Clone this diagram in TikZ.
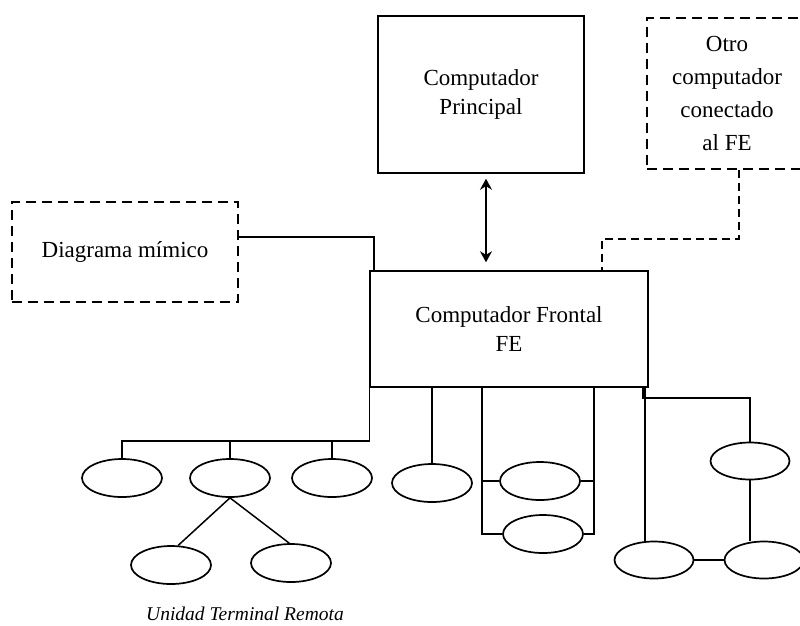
\documentclass[tikz,border=0pt]{standalone}
\usepackage{fontspec}
\setmainfont{Liberation Serif}
\usetikzlibrary{shapes.geometric,arrows.meta}
\begin{document}
\begin{tikzpicture}[x=1pt,y=-1pt,
  lbl/.style={font=\fontsize{23}{29}\selectfont, align=center},
  solidbox/.style={draw, line width=1.5pt, inner sep=0pt, lbl},
  dashbox/.style={draw, dash pattern=on 10pt off 6pt, line width=1.5pt, inner sep=0pt, lbl},
  rtu/.style={draw, ellipse, minimum width=80pt, minimum height=38pt, inner sep=0pt, line width=1.7pt},
  link/.style={line width=1.5pt},
  dlink/.style={line width=1.5pt, dash pattern=on 8pt off 5pt},
  dbl/.style={line width=1.6pt, {Stealth[length=11pt,width=12pt]}-{Stealth[length=11pt,width=12pt]}},
]
\useasboundingbox (0,0) rectangle (800,625);
\clip (0,0) rectangle (800,625);

% main blocks
\node[solidbox, minimum width=206pt, minimum height=157pt] (pc) at (481,94.5) {Computador\\Principal};
\node[dashbox, minimum width=160pt, minimum height=151pt, font=\fontsize{23}{33}\selectfont] (otro) at (727,93.5) {Otro\\computador\\conectado\\al FE};
\node[dashbox, minimum width=226pt, minimum height=100pt] (dm) at (125,252) {Diagrama mímico};
\node[solidbox, minimum width=278pt, minimum height=116pt] (fe) at (509,329) {Computador Frontal\\FE};

% remote terminal units
\node[rtu] (e1) at (122,478) {};
\node[rtu] (e2) at (230,478) {};
\node[rtu] (e3) at (332,478) {};
\node[rtu] (e4) at (171,565) {};
\node[rtu] (e5) at (291,563) {};
\node[rtu] (e6) at (432,483) {};
\node[rtu] (e7) at (540,481) {};
\node[rtu] (e8) at (543,534) {};
\node[rtu, minimum width=79pt, minimum height=37pt] (e9) at (654,560) {};
\node[rtu, minimum width=79pt, minimum height=37pt] (e10) at (750,461) {};
\node[rtu, minimum width=79pt, minimum height=37pt] (e11) at (764,560) {};

\node[font=\fontsize{19.5}{22}\selectfont\itshape, inner sep=0pt] (rtulbl) at (245,614) {Unidad Terminal Remota};

% junction points
\coordinate (ax) at (486,0);
\coordinate (kD) at (374,237);
\coordinate (kO) at (739,239);
\coordinate (kF) at (602,239);
\coordinate (busL) at (369.5,441);
\coordinate (pL) at (482,387);
\coordinate (pR) at (594,387);
\coordinate (pB) at (643,387);
\coordinate (kB) at (643,398);

% host link
\draw[dbl, shorten <=5pt, shorten >=8pt] (pc.south -| ax) -- (fe.north -| ax);

% side links
\draw[link] (kD -| dm.east) -- (kD) -- (kD |- fe.north);
\draw[dlink] (otro.south -| kO) -- (kO) -- (kF) -- (kF |- fe.north);

% left bus and tree
\draw[link] (fe.south -| busL) -- (busL) -| (e1);
\draw[link] (busL -| e2) -- (e2);
\draw[link] (busL -| e3) -- (e3);
\draw[link] (e2.south) -- (e4.70);
\draw[link] (e2.south) -- (e5.95);

% right side
\draw[link] (fe.south -| e6) -- (e6);
\draw[link] (pL) |- (e8);
\draw[link] (pL |- e7) -- (e7);
\draw[link] (pR) |- (e8);
\draw[link] (pR |- e7) -- (e7);
\draw[link] (fe.south -| e9.115) -- (e9.115);
\draw[link] (pB) -- (kB) -| (e10);
\draw[link] (e10) -- (e10 |- e11.north);
\draw[link] (e9) -- (e11);
\end{tikzpicture}
\end{document}
